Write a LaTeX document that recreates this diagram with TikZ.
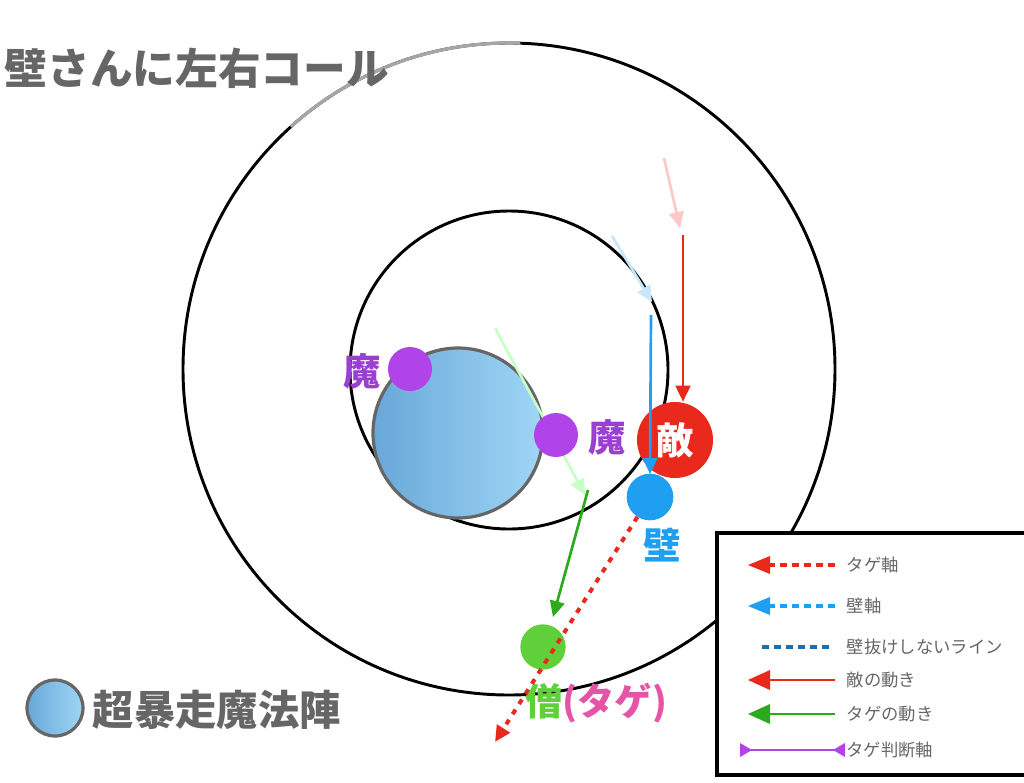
\documentclass[tikz,border=0pt]{standalone}
\usepackage{fontspec}
\setmainfont{Noto Sans CJK JP}
\usetikzlibrary{arrows.meta}
\definecolor{tgray}{HTML}{666666}
\definecolor{mpurple}{HTML}{B044E8}
\definecolor{tpurple}{HTML}{9B3FD1}
\definecolor{ered}{HTML}{E8291C}
\definecolor{wblue}{HTML}{1E9FF2}
\definecolor{tgreen}{HTML}{5FCF3A}
\definecolor{agreen}{HTML}{2BAA1E}
\definecolor{tpink}{HTML}{E455A6}
\definecolor{lblue1}{HTML}{68A8D8}
\definecolor{lblue2}{HTML}{A0D6F6}
\definecolor{dblue}{HTML}{1C6EB0}
\tikzset{
  ring/.style={draw=black,line width=2.2pt},
  dot/.style={circle,inner sep=0pt,minimum size=#1},
  lab/.style={font=\fontsize{28}{30}\selectfont\bfseries},
  mv/.style={line width=2pt,-{Triangle[length=12pt,width=11pt]}},
  leg/.style={font=\fontsize{13}{15}\selectfont,text=tgray,anchor=west},
}
\begin{document}
\begin{tikzpicture}[x=0.75pt,y=-0.75pt]
\useasboundingbox (0,0) rectangle (1024,782);
% rings
\draw[ring] (509,369) circle (326);
\draw[gray!70,line width=2.4pt] (509,369) ++(-88:326) arc (-88:-132:326);
\draw[ring] (509,370) circle (159);
% magic circle
\shade[left color=lblue1,right color=lblue2,draw=tgray,line width=2.4pt] (458,433) circle (85);
% faded arrows
\draw[mv,draw=green!22,fill=green!22] (495,328) -- (585,495);
\draw[mv,draw=red!22,fill=red!22] (664,158) -- (680,228);
\draw[mv,draw=wblue!25,fill=wblue!25] (612,236) -- (652,302);
% nodes
\node[dot=33pt,fill=mpurple] (m1) at (410,369) {};
\node[dot=33pt,fill=mpurple] (m2) at (556,435) {};
\node[lab,text=tpurple] (m1l) at (362,371) {魔};
\node[lab,text=tpurple] (m2l) at (607,437) {魔};
\node[dot=57pt,fill=ered,text=white,lab] (teki) at (675,440) {敵};
\node[dot=35pt,fill=wblue] (kabe) at (650,497) {};
\node[lab,text=wblue] (kabel) at (662,545) {壁};
\node[dot=34pt,fill=tgreen] (sou) at (543,647) {};
\node[lab,anchor=west,inner sep=0pt] (soul) at (525,703) {\textcolor{tgreen}{僧}\textcolor{tpink}{(タゲ)}};
\coordinate (tgend) at (495,742);
\coordinate (r0) at (683,235);
\coordinate (b0) at (651,315);
\coordinate (g0) at (588,490);
\coordinate (g1) at (553,617);
% arrows
\draw[ered,line width=3pt,dash pattern=on 4pt off 5pt,-{Triangle[length=12pt,width=11pt]}] (kabe) -- (tgend);
\draw[mv,draw=ered,fill=ered] (r0) -- (teki.north -| r0);
\draw[mv,draw=wblue,fill=wblue] (b0) -- (650,474);
\draw[mv,draw=agreen,fill=agreen] (g0) -- (g1);
% title
\node[anchor=west,text=tgray,font=\fontsize{32}{34}\selectfont\bfseries] (title) at (0,68) {壁さんに左右コール};
% bottom-left legend
\shade[left color=lblue1,right color=lblue2,draw=tgray,line width=2.4pt] (55,708) circle (28);
\node[anchor=west,text=tgray,font=\fontsize{31}{33}\selectfont\bfseries] (mh) at (88,710) {超暴走魔法陣};
% legend box
\draw[line width=2.4pt,fill=white] (717,533) rectangle (1026,775);
\draw[ered,line width=3pt,dash pattern=on 5pt off 4pt] (835,565) -- (768,565);
\fill[ered] (748,565) -- (770,556) -- (770,574) -- cycle;
\node[leg] (l1) at (842,565) {タゲ軸};
\draw[wblue,line width=3pt,dash pattern=on 5pt off 4pt] (835,606) -- (768,606);
\fill[wblue] (748,606) -- (770,597) -- (770,615) -- cycle;
\node[leg] (l2) at (842,606) {壁軸};
\draw[dblue,line width=3pt,dash pattern=on 5pt off 4pt] (762,647) -- (832,647);
\node[leg] (l3) at (842,647) {壁抜けしないライン};
\draw[ered,line width=2.2pt] (835,680) -- (765,680);
\fill[ered] (748,680) -- (770,670) -- (770,690) -- cycle;
\node[leg] (l4) at (842,680) {敵の動き};
\draw[agreen,line width=2.2pt] (835,714) -- (765,714);
\fill[agreen] (748,714) -- (770,704) -- (770,724) -- cycle;
\node[leg] (l5) at (842,714) {タゲの動き};
\draw[mpurple,line width=1.2pt] (740,750) -- (845,750);
\fill[mpurple] (740,743) -- (752,750) -- (740,757) -- cycle;
\fill[mpurple] (845,743) -- (833,750) -- (845,757) -- cycle;
\node[leg,inner sep=1pt] (l6) at (845,750) {タゲ判断軸};
\end{tikzpicture}
\end{document}
